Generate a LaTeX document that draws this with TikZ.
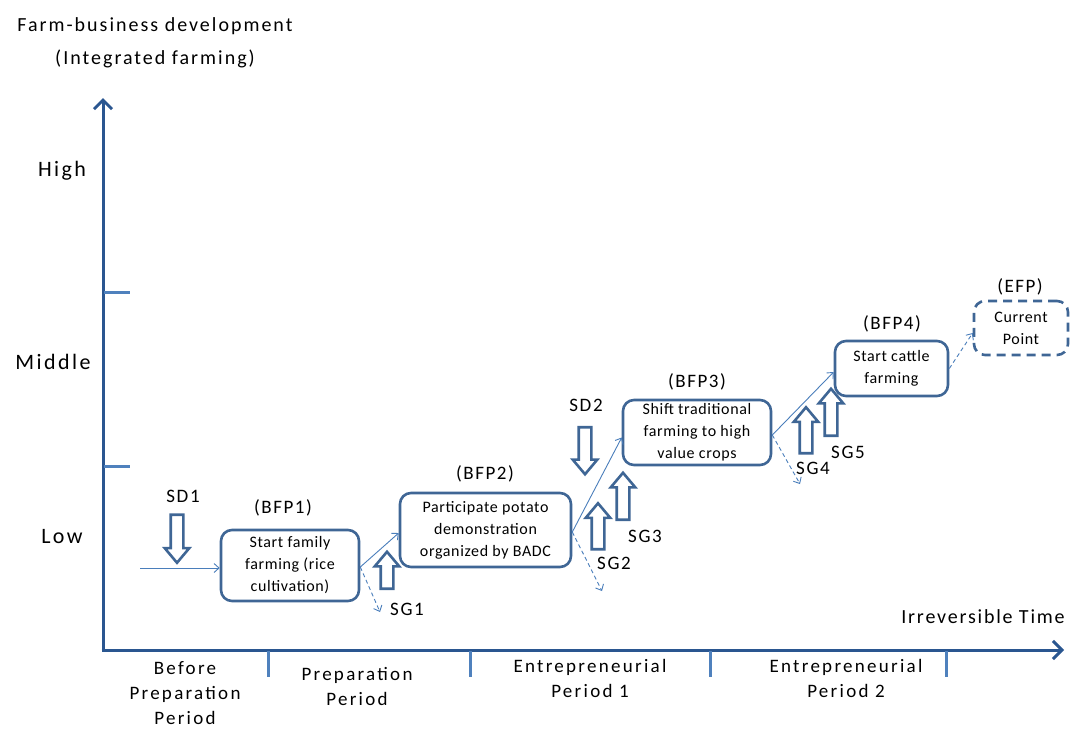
\documentclass[tikz,border=0pt]{standalone}
\usepackage{fontspec}
\setmainfont{Carlito}
\usetikzlibrary{arrows.meta,shapes.arrows}
\definecolor{axisblue}{HTML}{2A5690}
\definecolor{boxblue}{HTML}{3F6695}
\definecolor{linkblue}{HTML}{4A7EBB}
\definecolor{tickblue}{HTML}{4F81BD}
\newfontfamily\boxfont[LetterSpace=4]{Carlito}
\newfontfamily\tagfont[LetterSpace=8]{Carlito}
\newfontfamily\periodfont[LetterSpace=12]{Carlito}
\newfontfamily\levelfont[LetterSpace=11]{Carlito}
\newfontfamily\titlefont[LetterSpace=10]{Carlito}
\newfontfamily\timefont[LetterSpace=9]{Carlito}
\newfontfamily\sgfont[LetterSpace=9]{Carlito}
\tikzset{
  axis/.style={draw=axisblue, line width=3pt, -{Straight Barb[length=9pt,width=18pt,line width=3pt]}},
  tickmark/.style={draw=tickblue, line width=3pt},
  fpbox/.style={draw=boxblue, line width=2.6pt, rounded corners=11pt, align=center, inner sep=2pt, font=\boxfont\fontsize{16}{22}\selectfont},
  link/.style={draw=linkblue, line width=0.9pt, -{Straight Barb[length=5pt,width=9pt]}},
  dlink/.style={link, dash pattern=on 4pt off 3pt},
  barrow/.style={single arrow, draw=boxblue, line width=2.6pt, fill=white, inner sep=5pt, minimum width=0pt, single arrow head extend=6pt, single arrow tip angle=80},
  lab/.style={font=\sgfont\fontsize{19}{22}\selectfont},
  tag/.style={font=\tagfont\fontsize{19}{22}\selectfont},
  level/.style={font=\levelfont\fontsize{22}{26}\selectfont},
  period/.style={align=center, font=\periodfont\fontsize{19}{25}\selectfont}
}
\begin{document}
\begin{tikzpicture}[x=1pt,y=-1pt]
\useasboundingbox (0,0) rectangle (1070,729);
% axes
\coordinate (ytop) at (103,98);
\coordinate (xend) at (1064,650);
\draw[axis] (103,651.5) -- (ytop);
\draw[axis] (101.5,650) -- (xend);
% y ticks
\draw[tickmark] (104,292) -- (130,292);
\draw[tickmark] (104,466) -- (130,466);
% x ticks
\draw[tickmark] (268,651) -- (268,677);
\draw[tickmark] (470,651) -- (470,677);
\draw[tickmark] (710,651) -- (710,677);
\draw[tickmark] (946,651) -- (946,677);
% axis titles
\node[font=\titlefont\fontsize{20}{33}\selectfont, align=center] (ytitle) at (155,43) {Farm-business development\\(Integrated farming)};
\node[font=\timefont\fontsize{20}{24}\selectfont] (xtitle) at (983,617) {Irreversible Time};
% level labels
\node[level] (high) at (62,171) {High};
\node[level] (mid) at (53,362) {Middle};
\node[level] (low) at (62,537) {Low};
% periods
\node[period] (p0) at (185,693) {Before\\Preparation\\Period};
\node[period] (p1) at (357,686) {Preparation\\Period};
\node[period] (p2) at (590,678) {Entrepreneurial\\Period 1};
\node[period] (p3) at (846,678) {Entrepreneurial\\Period 2};
% boxes
\node[fpbox, minimum width=138pt, minimum height=71pt] (bfp1) at (290,565.5) {Start family\\farming (rice\\cultivation)};
\node[fpbox, minimum width=171pt, minimum height=74pt] (bfp2) at (485.5,530) {Participate potato\\demonstration\\organized by BADC};
\node[fpbox, minimum width=148pt, minimum height=65pt] (bfp3) at (697,432.5) {Shift traditional\\farming to high\\value crops};
\node[fpbox, minimum width=113pt, minimum height=55pt] (bfp4) at (891.5,368.5) {Start cattle\\farming};
\node[fpbox, dash pattern=on 9pt off 6pt, minimum width=94pt, minimum height=54pt] (efp) at (1021,328) {Current\\Point};
% tags
\node[tag] (t1) at (283,508) {(BFP1)};
\node[tag] (t2) at (485,474) {(BFP2)};
\node[tag] (t3) at (697,382) {(BFP3)};
\node[tag] (t4) at (892,324) {(BFP4)};
\node[tag] (t5) at (1020,287) {(EFP)};
% connectors
\coordinate (start) at (140,568);
\coordinate (d1) at (380,612);
\coordinate (d2) at (602,591);
\coordinate (d3) at (800,484);
\draw[link] (start) -- (bfp1.west |- start);
\draw[link] ([yshift=-1.5pt]bfp1.east) -- ([yshift=-3pt]bfp2.west);
\draw[dlink] ([yshift=-1.5pt]bfp1.east) -- (d1);
\draw[link] ([yshift=-2pt]bfp2.east) -- ([yshift=-5pt]bfp3.west);
\draw[dlink] ([yshift=-2pt]bfp2.east) -- (d2);
\draw[link] ([yshift=-2.5pt]bfp3.east) -- ([yshift=-3.5pt]bfp4.west);
\draw[dlink] ([yshift=-2.5pt]bfp3.east) -- (d3);
\draw[dlink] (bfp4.east) -- ([yshift=-5pt]efp.west);
% block arrows
\node[barrow, shape border rotate=270, minimum height=48pt] (sd1) at (177,535) {};
\node[barrow, shape border rotate=90, minimum height=37pt] (sg1) at (387,574) {};
\node[barrow, shape border rotate=270, minimum height=47pt] (sd2) at (585,447) {};
\node[barrow, shape border rotate=90, minimum height=46pt] (sg2) at (598,530) {};
\node[barrow, shape border rotate=90, minimum height=47pt] (sg3) at (623,500) {};
\node[barrow, shape border rotate=90, minimum height=46pt] (sg4) at (806,434) {};
\node[barrow, shape border rotate=90, minimum height=47pt] (sg5) at (831,416) {};
\node[lab] (lsd1) at (183,496) {SD1};
\node[lab] (lsg1) at (407,609) {SG1};
\node[lab] (lsd2) at (586,405) {SD2};
\node[lab] (lsg2) at (614,563) {SG2};
\node[lab] (lsg3) at (645,536) {SG3};
\node[lab] (lsg4) at (813,468) {SG4};
\node[lab] (lsg5) at (848,452) {SG5};
\end{tikzpicture}
\end{document}
